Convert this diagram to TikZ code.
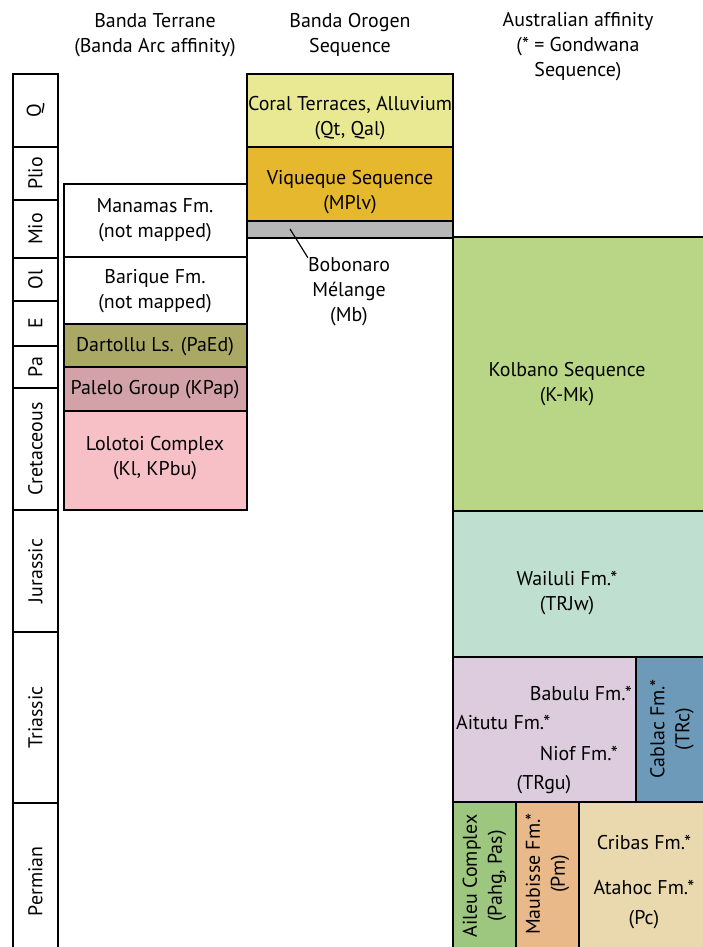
\documentclass[tikz,border=0pt]{standalone}
\usepackage{fontspec}
\setmainfont{PT Sans}
\usepackage{tikz}
\usetikzlibrary{fit}

\definecolor{coral}{HTML}{E9E993}
\definecolor{viqueque}{HTML}{E6B82E}
\definecolor{melange}{HTML}{B7B7B7}
\definecolor{dartollu}{HTML}{A9A965}
\definecolor{palelo}{HTML}{D3A2A8}
\definecolor{lolotoi}{HTML}{F7C0C6}
\definecolor{kolbano}{HTML}{B8D685}
\definecolor{wailuli}{HTML}{BFE0D0}
\definecolor{aitutu}{HTML}{DDCCDD}
\definecolor{cablac}{HTML}{6E9AB9}
\definecolor{aileu}{HTML}{9DC67F}
\definecolor{maubisse}{HTML}{EAB98A}
\definecolor{cribas}{HTML}{EAD9AE}

\tikzset{
  unit/.style={draw, line width=1.2pt, inner sep=0pt},
  ageunit/.style={draw, line width=1.2pt, inner sep=0pt},
  txt/.style={align=center, inner sep=0pt}
}

\begin{document}
\begin{tikzpicture}[x=0.03cm, y=-0.03cm, font=\fontsize{17}{21.3}\selectfont]
        \useasboundingbox (0,0) rectangle (703,947);
        \clip (0,0) rectangle (703,947);

        \node[txt] (hterrane) at (155,35) {Banda Terrane\\(Banda Arc affinity)};
        \node[txt] (horogen) at (350,35) {Banda Orogen\\Sequence};
        \node[txt] (haustral) at (578,47) {Australian affinity\\(* = Gondwana\\Sequence)};

        \foreach \top/\bot/\name/\lab in {74/147/q/Q, 147/200/plio/Plio, 200/258/mio/Mio,
                258/301/ol/Ol, 301/346/e/E, 346/388/pa/Pa, 388/510/cret/Cretaceous,
                510/632/jur/Jurassic, 632/803/tri/Triassic, 803/960/perm/Permian}{
            \node[ageunit, fit={(13,\top) (58,\bot)}] (\name) {};
            \node[txt, rotate=90] (\name-t) at (\name) {\lab};
        }

        \node[unit, fill=white, fit={(64,184) (247,257)}] (manamas) {};
        \node[txt] (manamas-t) at (155,220) {Manamas Fm.\\(not mapped)};
        \node[unit, fill=white, fit={(64,257) (247,324)}] (barique) {};
        \node[txt] (barique-t) at (155,291) {Barique Fm.\\(not mapped)};
        \node[unit, fill=dartollu, fit={(64,324) (247,367)}] (dartollu) {};
        \node[txt] (dartollu-t) at (155,347) {Dartollu Ls. (PaEd)};
        \node[unit, fill=palelo, fit={(64,367) (247,411)}] (palelo) {};
        \node[txt] (palelo-t) at (155,390) {Palelo Group (KPap)};
        \node[unit, fill=lolotoi, fit={(64,411) (247,510)}] (lolotoi) {};
        \node[txt] (lolotoi-t) at (155,458) {Lolotoi Complex\\(Kl, KPbu)};

        \node[unit, fill=coral, fit={(247,74) (453,147)}] (coral) {};
        \node[txt] (coral-t) at (350,118) {Coral Terraces, Alluvium\\(Qt, Qal)};
        \node[unit, fill=viqueque, fit={(247,147) (453,221)}] (viqueque) {};
        \node[txt] (viqueque-t) at (350,192) {Viqueque Sequence\\(MPlv)};
        \node[unit, fill=melange, fit={(247,221) (453,238)}] (bobonaro) {};
        \node[txt] (bobonaro-t) at (349,292) {Bobonaro\\Mélange\\(Mb)};
        \coordinate (leader) at (290,229);
        \draw[line width=1pt] (leader) -- (bobonaro-t.north west);

        \node[unit, fill=kolbano, fit={(453,237) (710,511)}] (kolbano) {};
        \node[txt] (kolbano-t) at (567,384) {Kolbano Sequence\\(K-Mk)};
        \node[unit, fill=wailuli, fit={(453,511) (710,657)}] (wailuli) {};
        \node[txt] (wailuli-t) at (567,593) {Wailuli Fm.*\\(TRJw)};

        \node[unit, fill=aitutu, fit={(453,657) (636,802)}] (aitutu) {};
        \node[txt, anchor=east] (babulu-t) at (632,693) {Babulu Fm.*};
        \node[txt, anchor=west] (aitutu-t) at (456,722) {Aitutu Fm.*};
        \node[txt, anchor=east] (niof-t) at (618,753) {Niof Fm.*};
        \node[txt] (trgu-t) at (544,785) {(TRgu)};
        \node[unit, fill=cablac, fit={(636,657) (710,802)}] (cablac) {};
        \node[txt, rotate=90] (cablac-t) at (672,729) {Cablac Fm.*\\(TRc)};

        \node[unit, fill=aileu, fit={(453,802) (516,960)}] (aileu) {};
        \node[txt, rotate=90] (aileu-t) at (484.5,876) {Aileu Complex\\(Pahg, Pas)};
        \node[unit, fill=maubisse, fit={(516,802) (579,960)}] (maubisse) {};
        \node[txt, rotate=90] (maubisse-t) at (547.5,874) {Maubisse Fm.*\\(Pm)};
        \node[unit, fill=cribas, fit={(579,802) (710,960)}] (cribas) {};
        \node[txt] (cribas-t) at (644,842) {Cribas Fm.*};
        \node[txt] (atahoc-t) at (644,887) {Atahoc Fm.*};
        \node[txt] (pc-t) at (644,920) {(Pc)};
    \end{tikzpicture}
\end{document}
